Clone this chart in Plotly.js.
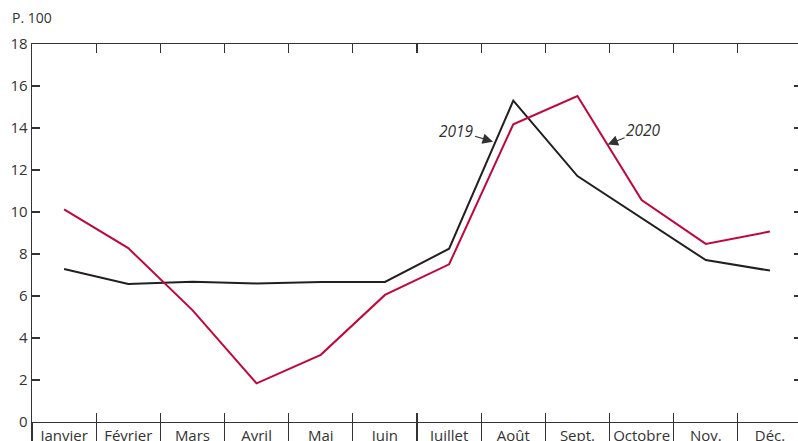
<!DOCTYPE html>
<html>
<head>
<meta charset="utf-8">
<script src="https://cdn.plot.ly/plotly-3.0.1.min.js"></script>
<style>html,body{margin:0;padding:0;background:#fff;}#chart{width:798px;height:441px;}</style>
</head>
<body>
<div id="chart"></div>
<script>
const months = ["Janvier","Février","Mars","Avril","Mai","Juin","Juillet","Août","Sept.","Octobre","Nov.","Déc."];
const values2019 = [7.29, 6.57, 6.68, 6.6, 6.67, 6.67, 8.25, 15.3, 11.71, 9.71, 7.71, 7.21];
const values2020 = [10.12, 8.28, 5.33, 1.84, 3.2, 6.05, 7.51, 14.18, 15.52, 10.57, 8.48, 9.07];
const yTicks = [0, 2, 4, 6, 8, 10, 12, 14, 16, 18];

const idx = months.map((m, i) => i);
const bounds = months.map((m, i) => i - 0.5);
const xRange = [-0.5, 11.437];
const font = {family: "Open Sans, sans-serif", size: 15, color: "#333"};
const labelFont = {family: "Open Sans, sans-serif", size: 15.5, color: "#333"};

const traces = [
  {x: idx, y: values2019, mode: "lines", line: {color: "#231f20", width: 2}, hoverinfo: "skip", showlegend: false},
  {x: idx, y: values2020, mode: "lines", line: {color: "#c0073c", width: 2}, hoverinfo: "skip", showlegend: false},
  {x: idx, y: values2019, xaxis: "x2", mode: "lines", line: {width: 0}, opacity: 0, hoverinfo: "skip", showlegend: false},
  {x: idx, y: values2019, xaxis: "x3", mode: "lines", line: {width: 0}, opacity: 0, hoverinfo: "skip", showlegend: false},
  {x: idx, y: values2019, xaxis: "x4", mode: "lines", line: {width: 0}, opacity: 0, hoverinfo: "skip", showlegend: false},
  {x: idx, y: values2019, yaxis: "y2", mode: "lines", line: {width: 0}, opacity: 0, hoverinfo: "skip", showlegend: false}
];

const layout = {
  width: 798, height: 441,
  margin: {l: 32, r: 0, t: 44, b: 19},
  paper_bgcolor: "#fff", plot_bgcolor: "#fff",
  font: font,
  showlegend: false,
  xaxis: {
    range: xRange, tickvals: idx, ticktext: months, ticks: "",
    showline: true, linecolor: "#333", linewidth: 1.3, showgrid: false, zeroline: false,
    tickfont: font, fixedrange: true
  },
  xaxis2: {
    overlaying: "x", anchor: "y", side: "bottom", range: xRange, tickvals: bounds,
    ticks: "outside", ticklen: 19, tickwidth: 1.2, tickcolor: "#333",
    showticklabels: false, showline: false, showgrid: false, zeroline: false
  },
  xaxis3: {
    overlaying: "x", anchor: "y", side: "bottom", range: xRange, tickvals: bounds,
    ticks: "inside", ticklen: 9, tickwidth: 1.2, tickcolor: "#333",
    showticklabels: false, showline: false, showgrid: false, zeroline: false
  },
  xaxis4: {
    overlaying: "x", anchor: "y", side: "top", range: xRange, tickvals: bounds,
    ticks: "inside", ticklen: 9, tickwidth: 1.2, tickcolor: "#333",
    showticklabels: false, showline: true, linecolor: "#333", linewidth: 1.3, showgrid: false, zeroline: false
  },
  yaxis: {
    range: [0, 18], tickvals: yTicks, ticks: "inside", ticklen: 8, tickwidth: 1.2, tickcolor: "#333",
    showline: true, linecolor: "#333", linewidth: 1.3, showgrid: false, zeroline: false,
    tickfont: font, fixedrange: true
  },
  yaxis2: {
    overlaying: "y", anchor: "x", side: "right", range: [0, 18], tickvals: yTicks,
    ticks: "inside", ticklen: 4, tickwidth: 1.2, tickcolor: "#333",
    showticklabels: false, showline: false, showgrid: false, zeroline: false
  },
  annotations: [
    {xref: "paper", yref: "paper", x: -22/766, y: 1 + 26/378, xanchor: "left", yanchor: "middle",
     text: "P. 100", showarrow: false, font: {family: "Open Sans, sans-serif", size: 14, color: "#333"}},
    {x: 6.684, y: 13.35, text: "<i>2019</i>", showarrow: true, arrowhead: 2, arrowsize: 1.9, arrowwidth: 1.1,
     arrowcolor: "#333", ax: -37, ay: -11, standoff: 0, font: labelFont},
    {x: 8.47, y: 13.22, text: "<i>2020</i>", showarrow: true, arrowhead: 2, arrowsize: 1.9, arrowwidth: 1.1,
     arrowcolor: "#333", ax: 36, ay: -14, standoff: 0, font: labelFont}
  ]
};

Plotly.newPlot("chart", traces, layout, {staticPlot: true, displayModeBar: false});
</script>
</body>
</html>
